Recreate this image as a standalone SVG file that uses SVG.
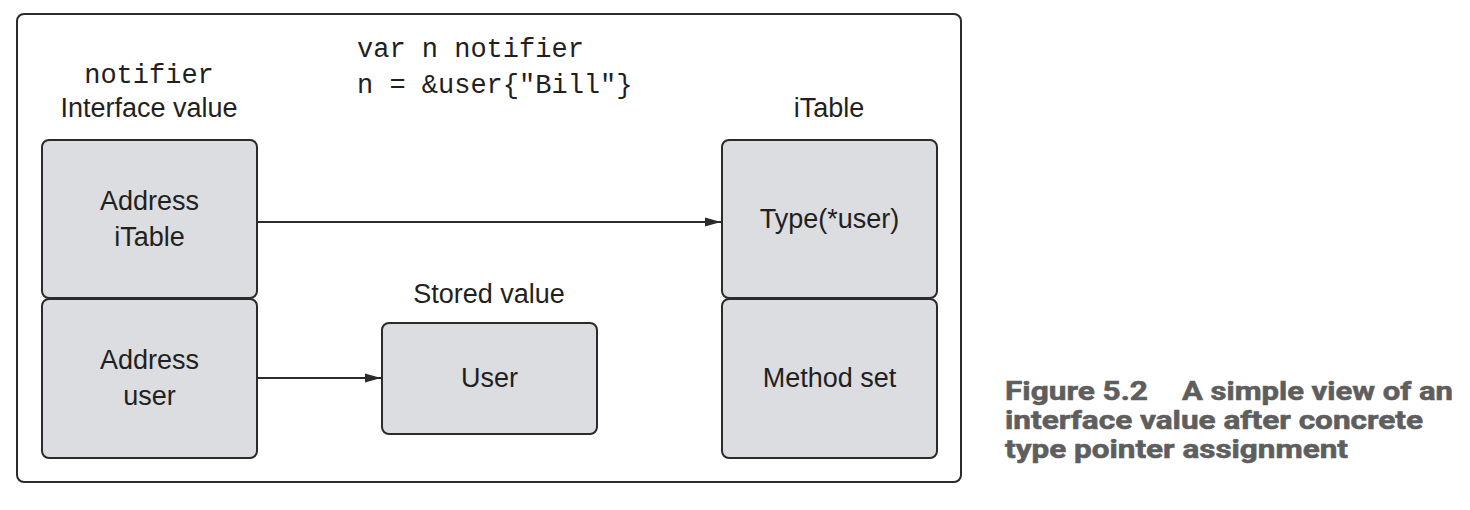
<svg xmlns="http://www.w3.org/2000/svg" width="1470" height="510" viewBox="0 0 1470 510">
<style>
.frame{fill:none;stroke:#2b2b2b;stroke-width:2}
.box{fill:#dcdde0;stroke:#2b2b2b;stroke-width:2}
.lbl{font-family:"Liberation Sans",Arial,sans-serif;font-size:27px;fill:#231f20;text-anchor:middle}
.code{font-family:"Liberation Mono","Courier New",monospace;font-size:27px;fill:#231f20}
.conn{stroke:#2b2b2b;stroke-width:2;fill:none}
.cap{font-family:Roboto,"Liberation Sans",sans-serif;font-weight:bold;font-size:26px;fill:#5e5e5e;stroke:#5e5e5e;stroke-width:0.6}
</style>
<defs>
<marker id="arr" markerWidth="18" markerHeight="12" refX="16" refY="6" orient="auto" markerUnits="userSpaceOnUse">
<path d="M0,1.5 L16,6 L0,10.5 Z" fill="#2b2b2b"/>
</marker>
</defs>
<rect class="frame" x="17" y="14" width="944" height="468" rx="7"/>
<text class="code" x="357" y="57">var n notifier</text>
<text class="code" x="357" y="93">n = &amp;user{"Bill"}</text>
<text class="code" x="149" y="83" text-anchor="middle">notifier</text>
<text class="lbl" x="149" y="117">Interface value</text>
<text class="lbl" x="829" y="117">iTable</text>
<text class="lbl" x="489" y="303">Stored value</text>
<g id="iface-itable">
<rect class="box" x="42" y="140" width="215" height="158" rx="7"/>
<text class="lbl" x="149.5" y="210">Address</text>
<text class="lbl" x="149.5" y="246">iTable</text>
</g>
<g id="iface-user">
<rect class="box" x="42" y="299" width="215" height="159" rx="7"/>
<text class="lbl" x="149.5" y="369">Address</text>
<text class="lbl" x="149.5" y="405">user</text>
</g>
<g id="stored-user">
<rect class="box" x="382" y="323" width="215" height="111" rx="7"/>
<text class="lbl" x="489.5" y="387">User</text>
</g>
<g id="itable-type">
<rect class="box" x="722" y="140" width="215" height="158" rx="7"/>
<text class="lbl" x="829.5" y="228">Type(*user)</text>
</g>
<g id="itable-methods">
<rect class="box" x="722" y="299" width="215" height="159" rx="7"/>
<text class="lbl" x="829.5" y="387">Method set</text>
</g>
<g id="connectors">
<line class="conn" x1="257" y1="222" x2="721" y2="222" marker-end="url(#arr)"/>
<line class="conn" x1="257" y1="378" x2="381" y2="378" marker-end="url(#arr)"/>
</g>
<g id="caption">
<text class="cap" x="1005" y="400" textLength="143" lengthAdjust="spacingAndGlyphs">Figure 5.2</text>
<text class="cap" x="1182" y="400" textLength="271" lengthAdjust="spacingAndGlyphs">A simple view of an</text>
<text class="cap" x="1005" y="429" textLength="418" lengthAdjust="spacingAndGlyphs">interface value after concrete</text>
<text class="cap" x="1005" y="458" textLength="343" lengthAdjust="spacingAndGlyphs">type pointer assignment</text>
</g>
</svg>
